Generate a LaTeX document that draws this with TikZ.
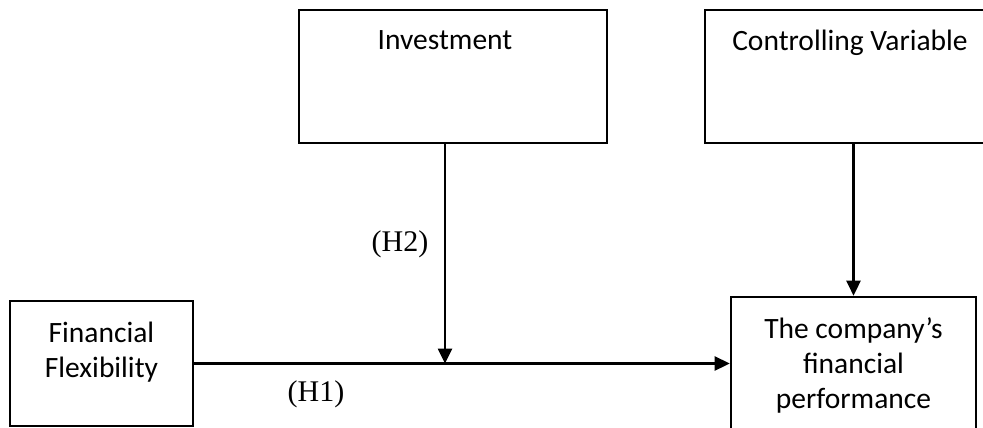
\documentclass[tikz,border=0pt]{standalone}
\usepackage{fontspec}
\setmainfont{Carlito}
\newfontfamily\hfont{Liberation Serif}
\usetikzlibrary{
    arrows.meta,
    calc,
    positioning
    }

\begin{document}
\begin{tikzpicture}[x=1pt, y=-1pt,
    varbox/.style={draw=black, line width=2.6pt, inner sep=0pt},
    boxtext/.style={font=\fontsize{29.5}{35}\selectfont, align=center},
    hyp/.style={font=\hfont\fontsize{30}{34}\selectfont},
    link/.style={line width=2.6pt, -{Triangle[length=15pt,width=14pt]}}
    ]

    \useasboundingbox (0,0) rectangle (983,428);

    %Boxes
    \node[varbox, minimum width=183pt, minimum height=125pt] (flex) at (101.5,363.5) {};
    \node[varbox, minimum width=308pt, minimum height=133pt] (invest) at (453,76.5) {};
    \node[varbox, minimum width=296pt, minimum height=133pt] (ctrl) at (853,76.5) {};
    \node[varbox, minimum width=245pt, minimum height=160pt] (perf) at (853.5,377) {};

    %Texts
    \node[boxtext, anchor=north] (flextext) at ($(flex.north)+(0,19)$) {Financial\\Flexibility};
    \node[boxtext, anchor=north] (investtext) at ($(invest.north)+(-8,18)$) {Investment};
    \node[boxtext, anchor=north] (ctrltext) at ($(ctrl.north)+(-3,18)$) {Controlling Variable};
    \node[boxtext, anchor=north] (perftext) at ($(perf.north)+(0,18)$) {The company’s\\financial\\performance};

    %Links
    \coordinate (mid) at (445,363.5);
    \draw[link] (flex.east) -- (flex.east -| perf.west);
    \draw[link] (invest.south -| mid) -- (mid);
    \draw[link] (perf.north |- ctrl.south) -- (perf.north);
    \node[hyp] (h1) at (316,394) {(H1)};
    \node[hyp] (h2) at (400,244) {(H2)};

\end{tikzpicture}
\end{document}
